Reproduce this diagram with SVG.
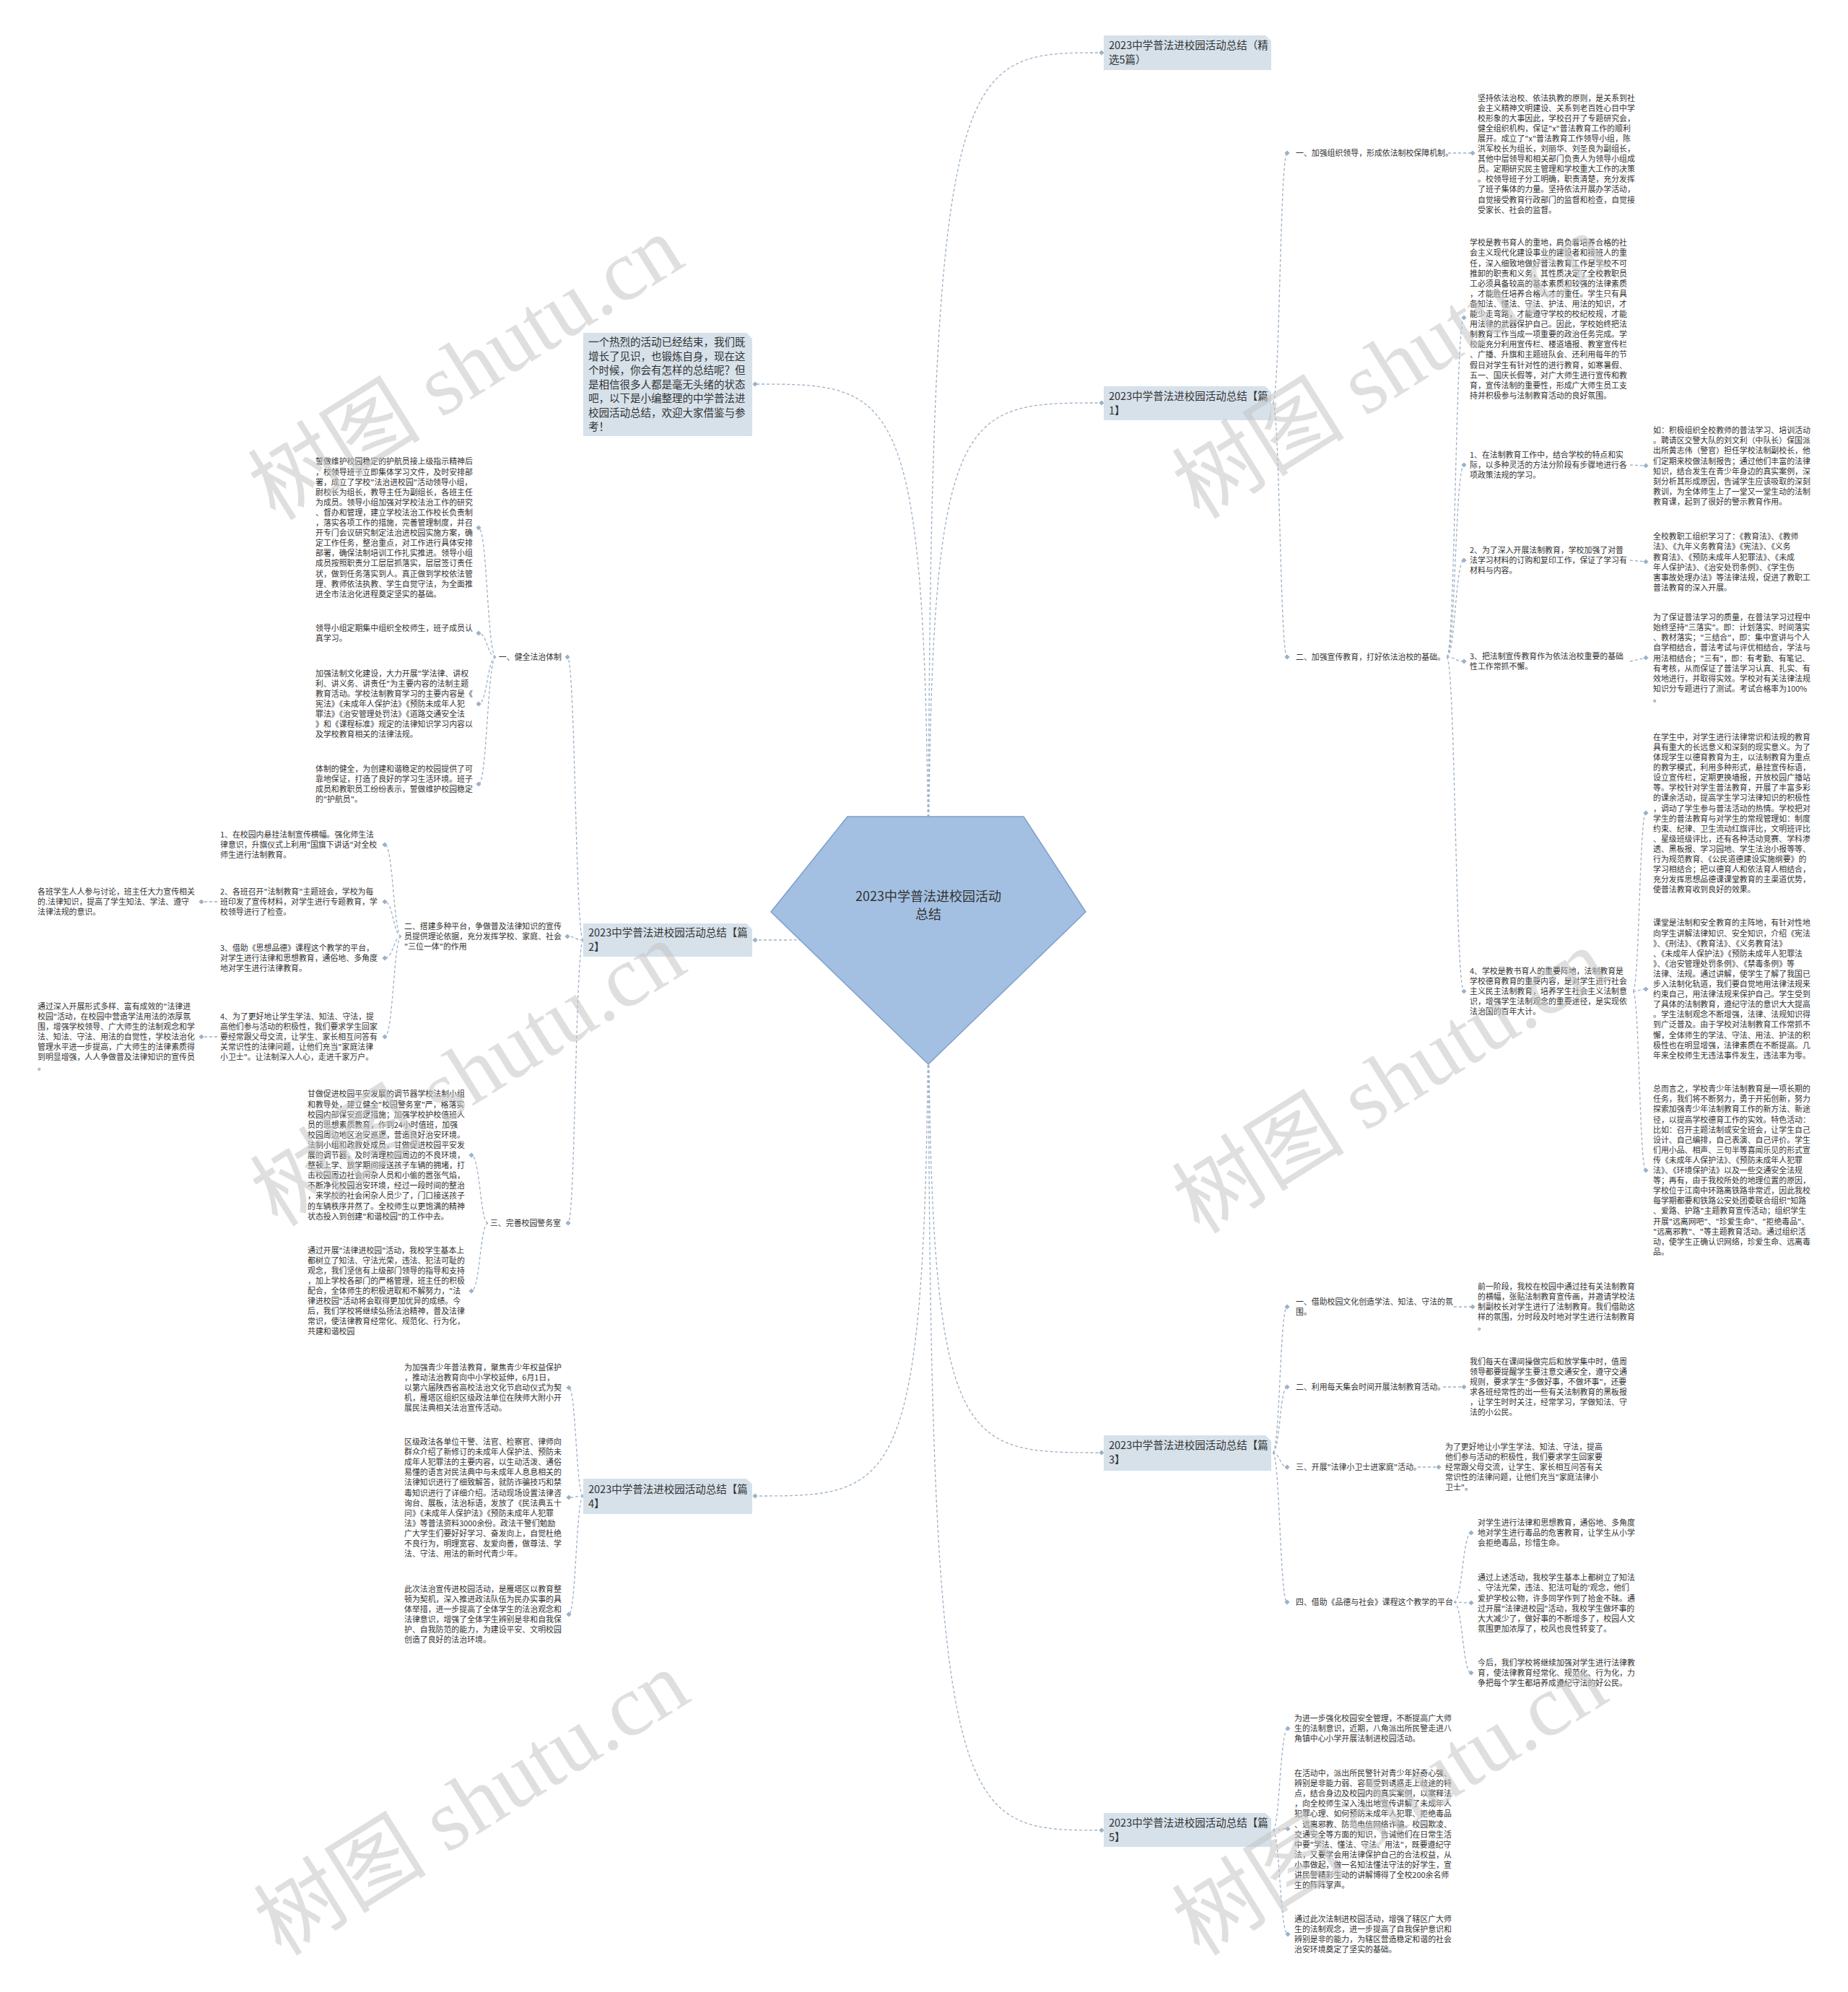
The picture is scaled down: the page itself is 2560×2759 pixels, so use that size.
<svg xmlns="http://www.w3.org/2000/svg" xmlns:xlink="http://www.w3.org/1999/xlink" width="2560" height="2759" viewBox="0 0 2560 2759">
<style>
.t{font-family:"Noto Sans CJK SC","Liberation Sans",sans-serif;font-size:10.9px;fill:#333}
.bt{font-family:"Noto Sans CJK SC","Liberation Sans",sans-serif;font-size:14.5px;fill:#333}
.ct{font-family:"Noto Sans CJK SC","Liberation Sans",sans-serif;font-size:18px;fill:#333}
.c{fill:none;stroke:#9cb1c6;stroke-width:1.3;stroke-dasharray:4 3}
.box{fill:#d6e1ea}
.wm{font-family:"Liberation Serif","Noto Sans CJK SC",serif;font-size:120px;fill:#c4c4c4;fill-opacity:0.55}
</style>
<defs>
<path id="dm" d="M0,-3.6 L3.6,0 L0,3.6 L-3.6,0 Z" fill="#9cb1c6"/>
</defs>
<rect width="2560" height="2759" fill="#ffffff"/>
<g id="connectors">
<path class="c" d="M1286,1300 C1286,73 1320,73 1526,73"/>
<path class="c" d="M1286,1300 C1286,558 1320,558 1526,558"/>
<path class="c" d="M1286,1300 C1286,2012 1320,2012 1526,2012"/>
<path class="c" d="M1286,1300 C1286,2535 1320,2535 1526,2535"/>
<path class="c" d="M1286,1300 C1286,532 1252,532 1046,532"/>
<path class="c" d="M1286,1300 C1200,1302 1100,1302 1046,1302"/>
<path class="c" d="M1286,1300 C1286,2072 1252,2072 1046,2072"/>
<path class="c" d="M1763,558 C1773,558 1773,212 1783,212"/>
<path class="c" d="M1763,558 C1773,558 1773,910 1783,910"/>
<path class="c" d="M2006,212 L2040,212"/>
<path class="c" d="M2004,910 C2016,910 2016,440 2028,440"/>
<path class="c" d="M2004,910 C2016,910 2016,644 2028,644"/>
<path class="c" d="M2004,910 C2016,910 2016,776 2028,776"/>
<path class="c" d="M2004,910 C2016,910 2016,916 2028,916"/>
<path class="c" d="M2004,910 C2016,910 2016,1373 2028,1373"/>
<path class="c" d="M2258,644 L2280,645"/>
<path class="c" d="M2258,776 L2280,778"/>
<path class="c" d="M2258,916 L2280,911"/>
<path class="c" d="M2262,1373 C2271,1373 2271,1126 2280,1126"/>
<path class="c" d="M2262,1373 C2271,1373 2271,1370 2280,1370"/>
<path class="c" d="M2262,1373 C2271,1373 2271,1621 2280,1621"/>
<path class="c" d="M1763,2012 C1773,2012 1773,1810 1783,1810"/>
<path class="c" d="M1763,2012 C1773,2012 1773,1921 1783,1921"/>
<path class="c" d="M1763,2012 C1773,2012 1773,2032 1783,2032"/>
<path class="c" d="M1763,2012 C1773,2012 1773,2219 1783,2219"/>
<path class="c" d="M2014,1810 L2040,1810"/>
<path class="c" d="M1999,1921 L2028,1921"/>
<path class="c" d="M1964,2032 L1993,2032"/>
<path class="c" d="M2014,2219 C2026,2219 2026,2123 2038,2123"/>
<path class="c" d="M2014,2219 C2026,2219 2026,2220 2038,2220"/>
<path class="c" d="M2014,2219 C2026,2219 2026,2317 2038,2317"/>
<path class="c" d="M1763,2535 C1773,2535 1773,2394 1784,2394"/>
<path class="c" d="M1763,2535 C1773,2535 1773,2533 1784,2533"/>
<path class="c" d="M1763,2535 C1773,2535 1773,2679 1784,2679"/>
<path class="c" d="M808,1302 C797,1302 797,910 786,910"/>
<path class="c" d="M808,1302 C797,1302 797,1297 786,1297"/>
<path class="c" d="M808,1302 C797,1302 797,1694 787,1694"/>
<path class="c" d="M687,910 C675,910 675,731 663,731"/>
<path class="c" d="M687,910 C675,910 675,877 663,877"/>
<path class="c" d="M687,910 C675,910 675,975 663,975"/>
<path class="c" d="M687,910 C675,910 675,1086 663,1086"/>
<path class="c" d="M556,1297 C545,1297 545,1170 533,1170"/>
<path class="c" d="M556,1297 C545,1297 545,1249 533,1249"/>
<path class="c" d="M556,1297 C545,1297 545,1327 533,1327"/>
<path class="c" d="M556,1297 C545,1297 545,1436 533,1436"/>
<path class="c" d="M301,1249 L279,1249"/>
<path class="c" d="M301,1436 L279,1436"/>
<path class="c" d="M676,1694 C665,1694 665,1600 653,1600"/>
<path class="c" d="M676,1694 C665,1694 665,1788 653,1788"/>
<path class="c" d="M808,2072 C798,2072 798,1922 788,1922"/>
<path class="c" d="M808,2072 C798,2072 798,2074 788,2074"/>
<path class="c" d="M808,2072 C798,2072 798,2236 788,2236"/>
<use xlink:href="#dm" x="1526" y="73"/><use xlink:href="#dm" x="1526" y="558"/><use xlink:href="#dm" x="1526" y="2012"/><use xlink:href="#dm" x="1526" y="2535"/>
<use xlink:href="#dm" x="1046" y="532"/><use xlink:href="#dm" x="1046" y="1302"/><use xlink:href="#dm" x="1046" y="2072"/>
<use xlink:href="#dm" x="1783" y="212"/><use xlink:href="#dm" x="1783" y="910"/><use xlink:href="#dm" x="2040" y="212"/>
<use xlink:href="#dm" x="2028" y="440"/><use xlink:href="#dm" x="2028" y="644"/><use xlink:href="#dm" x="2028" y="776"/><use xlink:href="#dm" x="2028" y="916"/><use xlink:href="#dm" x="2028" y="1373"/>
<use xlink:href="#dm" x="2280" y="645"/><use xlink:href="#dm" x="2280" y="778"/><use xlink:href="#dm" x="2280" y="911"/><use xlink:href="#dm" x="2280" y="1126"/><use xlink:href="#dm" x="2280" y="1370"/><use xlink:href="#dm" x="2280" y="1621"/>
<use xlink:href="#dm" x="1783" y="1810"/><use xlink:href="#dm" x="1783" y="1921"/><use xlink:href="#dm" x="1783" y="2032"/><use xlink:href="#dm" x="1783" y="2219"/>
<use xlink:href="#dm" x="2040" y="1810"/><use xlink:href="#dm" x="2028" y="1921"/><use xlink:href="#dm" x="1993" y="2032"/>
<use xlink:href="#dm" x="2038" y="2123"/><use xlink:href="#dm" x="2038" y="2220"/><use xlink:href="#dm" x="2038" y="2317"/>
<use xlink:href="#dm" x="1784" y="2394"/><use xlink:href="#dm" x="1784" y="2533"/><use xlink:href="#dm" x="1784" y="2679"/>
<use xlink:href="#dm" x="786" y="910"/><use xlink:href="#dm" x="786" y="1297"/><use xlink:href="#dm" x="787" y="1694"/>
<use xlink:href="#dm" x="663" y="731"/><use xlink:href="#dm" x="663" y="877"/><use xlink:href="#dm" x="663" y="975"/><use xlink:href="#dm" x="663" y="1086"/>
<use xlink:href="#dm" x="533" y="1170"/><use xlink:href="#dm" x="533" y="1249"/><use xlink:href="#dm" x="533" y="1327"/><use xlink:href="#dm" x="533" y="1436"/>
<use xlink:href="#dm" x="279" y="1249"/><use xlink:href="#dm" x="279" y="1436"/>
<use xlink:href="#dm" x="653" y="1600"/><use xlink:href="#dm" x="653" y="1788"/>
<use xlink:href="#dm" x="788" y="1922"/><use xlink:href="#dm" x="788" y="2074"/><use xlink:href="#dm" x="788" y="2236"/>
</g>
<g id="center">
<polygon points="1174,1131 1418,1131 1504,1263 1286,1474 1068,1263" fill="#a3c0e2" stroke="#7f9fca" stroke-width="1.5"/>
<text class="ct" x="1286" y="1248" text-anchor="middle">2023中学普法进校园活动</text>
<text class="ct" x="1286" y="1273" text-anchor="middle">总结</text>
</g>
<g id="n-title">
<path class="box" d="M1529,49 H1753 L1761,57 V97 H1529 Z"/>
<text class="bt" x="1536" y="68">2023中学普法进校园活动总结（精</text>
<text class="bt" x="1536" y="88">选5篇）</text>
</g>
<g id="n-p1">
<path class="box" d="M1529,535 H1753 L1761,543 V582 H1529 Z"/>
<text class="bt" x="1536" y="553.5">2023中学普法进校园活动总结【篇</text>
<text class="bt" x="1536" y="573.5">1】</text>
</g>
<g id="n-p3">
<path class="box" d="M1529,1988 H1753 L1761,1996 V2037 H1529 Z"/>
<text class="bt" x="1536" y="2007">2023中学普法进校园活动总结【篇</text>
<text class="bt" x="1536" y="2027">3】</text>
</g>
<g id="n-p5">
<path class="box" d="M1529,2511 H1753 L1761,2519 V2558 H1529 Z"/>
<text class="bt" x="1536" y="2529.5">2023中学普法进校园活动总结【篇</text>
<text class="bt" x="1536" y="2549.5">5】</text>
</g>
<g id="n-intro">
<path class="box" d="M808,461 H1034 L1042,469 V604 H808 Z"/>
<text class="bt"><tspan x="815" y="479.3">一个热烈的活动已经结束，我们既</tspan><tspan x="815" dy="19.5">增长了见识，也锻炼自身，现在这</tspan><tspan x="815" dy="19.5">个时候，你会有怎样的总结呢？但</tspan><tspan x="815" dy="19.5">是相信很多人都是毫无头绪的状态</tspan><tspan x="815" dy="19.5">吧，以下是小编整理的中学普法进</tspan><tspan x="815" dy="19.5">校园活动总结，欢迎大家借鉴与参</tspan><tspan x="815" dy="19.5">考！</tspan></text>
</g>
<g id="n-p2">
<path class="box" d="M808,1279 H1034 L1042,1287 V1325 H808 Z"/>
<text class="bt" x="815" y="1297">2023中学普法进校园活动总结【篇</text>
<text class="bt" x="815" y="1317">2】</text>
</g>
<g id="n-p4">
<path class="box" d="M808,2048 H1034 L1042,2056 V2097 H808 Z"/>
<text class="bt" x="815" y="2067.5">2023中学普法进校园活动总结【篇</text>
<text class="bt" x="815" y="2087.5">4】</text>
</g>
<g id="p1-1">
<text class="t" x="1795" y="216">一、加强组织领导，形成依法制校保障机制。</text>
</g>
<g id="p1-1a">
<text class="t"><tspan x="2047" y="139.5">坚持依法治校、依法执教的原则，是关系到社</tspan><tspan x="2047" dy="14.1">会主义精神文明建设、关系到老百姓心目中学</tspan><tspan x="2047" dy="14.1">校形象的大事因此，学校召开了专题研究会，</tspan><tspan x="2047" dy="14.1">健全组织机构，保证"x"普法教育工作的顺利</tspan><tspan x="2047" dy="14.1">展开。成立了"x"普法教育工作领导小组，陈</tspan><tspan x="2047" dy="14.1">洪军校长为组长，刘丽华、刘圣良为副组长，</tspan><tspan x="2047" dy="14.1">其他中层领导和相关部门负责人为领导小组成</tspan><tspan x="2047" dy="14.1">员。定期研究民主管理和学校重大工作的决策</tspan><tspan x="2047" dy="14.1">。校领导班子分工明确，职责清楚，充分发挥</tspan><tspan x="2047" dy="14.1">了班子集体的力量。坚持依法开展办学活动，</tspan><tspan x="2047" dy="14.1">自觉接受教育行政部门的监督和检查，自觉接</tspan><tspan x="2047" dy="14.1">受家长、社会的监督。</tspan></text>
</g>
<g id="p1-2">
<text class="t" x="1795" y="914">二、加强宣传教育，打好依法治校的基础。</text>
</g>
<g id="p1-2a">
<text class="t"><tspan x="2036" y="340.3">学校是教书育人的重地，肩负着培养合格的社</tspan><tspan x="2036" dy="14.1">会主义现代化建设事业的建设者和接班人的重</tspan><tspan x="2036" dy="14.1">任，深入细致地做好普法教育工作是学校不可</tspan><tspan x="2036" dy="14.1">推卸的职责和义务，其性质决定了全校教职员</tspan><tspan x="2036" dy="14.1">工必须具备较高的基本素质和较强的法律素质</tspan><tspan x="2036" dy="14.1">，才能胜任培养合格人才的重任。学生只有具</tspan><tspan x="2036" dy="14.1">备知法、懂法、守法、护法、用法的知识，才</tspan><tspan x="2036" dy="14.1">能少走弯路，才能遵守学校的校纪校规，才能</tspan><tspan x="2036" dy="14.1">用法律的武器保护自己。因此，学校始终把法</tspan><tspan x="2036" dy="14.1">制教育工作当成一项重要的政治任务完成。学</tspan><tspan x="2036" dy="14.1">校能充分利用宣传栏、楼道墙报、教室宣传栏</tspan><tspan x="2036" dy="14.1">、广播、升旗和主题班队会、还利用每年的节</tspan><tspan x="2036" dy="14.1">假日对学生有针对性的进行教育，如寒暑假、</tspan><tspan x="2036" dy="14.1">五一、国庆长假等，对广大师生进行宣传和教</tspan><tspan x="2036" dy="14.1">育，宣传法制的重要性，形成广大师生员工支</tspan><tspan x="2036" dy="14.1">持并积极参与法制教育活动的良好氛围。</tspan></text>
</g>
<g id="p1-2b">
<text class="t"><tspan x="2036" y="633.9">1、在法制教育工作中，结合学校的特点和实</tspan><tspan x="2036" dy="14.1">际，以多种灵活的方法分阶段有步骤地进行各</tspan><tspan x="2036" dy="14.1">项政策法规的学习。</tspan></text>
</g>
<g id="p1-2b1">
<text class="t"><tspan x="2290" y="600.2">如：积极组织全校教师的普法学习、培训活动</tspan><tspan x="2290" dy="14.1">。聘请区交警大队的刘文利（中队长）保国派</tspan><tspan x="2290" dy="14.1">出所黄志伟（警官）担任学校法制副校长，他</tspan><tspan x="2290" dy="14.1">们定期来校做法制报告；通过他们丰富的法律</tspan><tspan x="2290" dy="14.1">知识，结合发生在青少年身边的真实案例，深</tspan><tspan x="2290" dy="14.1">刻分析其形成原因，告诫学生应该吸取的深刻</tspan><tspan x="2290" dy="14.1">教训，为全体师生上了一堂又一堂生动的法制</tspan><tspan x="2290" dy="14.1">教育课，起到了很好的警示教育作用。</tspan></text>
</g>
<g id="p1-2c">
<text class="t"><tspan x="2036" y="765.9">2、为了深入开展法制教育，学校加强了对普</tspan><tspan x="2036" dy="14.1">法学习材料的订购和复印工作，保证了学习有</tspan><tspan x="2036" dy="14.1">材料与内容。</tspan></text>
</g>
<g id="p1-2c1">
<text class="t"><tspan x="2290" y="747.3">全校教职工组织学习了：《教育法》、《教师</tspan><tspan x="2290" dy="14.1">法》、《九年义务教育法》《宪法》、《义务</tspan><tspan x="2290" dy="14.1">教育法》、《预防未成年人犯罪法》、《未成</tspan><tspan x="2290" dy="14.1">年人保护法》、《治安处罚条例》、《学生伤</tspan><tspan x="2290" dy="14.1">害事故处理办法》等法律法规，促进了教职工</tspan><tspan x="2290" dy="14.1">普法教育的深入开展。</tspan></text>
</g>
<g id="p1-2d">
<text class="t"><tspan x="2036" y="913">3、把法制宣传教育作为依法治校重要的基础</tspan><tspan x="2036" dy="14.1">性工作常抓不懈。</tspan></text>
</g>
<g id="p1-2d1">
<text class="t"><tspan x="2290" y="859.1">为了保证普法学习的质量，在普法学习过程中</tspan><tspan x="2290" dy="14.1">始终坚持"三落实"。即：计划落实、时间落实</tspan><tspan x="2290" dy="14.1">、教材落实；"三结合"，即：集中宣讲与个人</tspan><tspan x="2290" dy="14.1">自学相结合，普法考试与评优相结合，学法与</tspan><tspan x="2290" dy="14.1">用法相结合；"三有"，即：有考勤、有笔记、</tspan><tspan x="2290" dy="14.1">有考核，从而保证了普法学习认真、扎实、有</tspan><tspan x="2290" dy="14.1">效地进行，并取得实效。学校对有关法律法规</tspan><tspan x="2290" dy="14.1">知识分专题进行了测试。考试合格率为100%</tspan><tspan x="2290" dy="14.1">。</tspan></text>
</g>
<g id="p1-2e">
<text class="t"><tspan x="2036" y="1348.8">4、学校是教书育人的重要阵地，法制教育是</tspan><tspan x="2036" dy="14.1">学校德育教育的重要内容，是对学生进行社会</tspan><tspan x="2036" dy="14.1">主义民主法制教育，培养学生社会主义法制意</tspan><tspan x="2036" dy="14.1">识，增强学生法制观念的重要途径，是实现依</tspan><tspan x="2036" dy="14.1">法治国的百年大计。</tspan></text>
</g>
<g id="p1-2e1">
<text class="t"><tspan x="2290" y="1024.8">在学生中，对学生进行法律常识和法规的教育</tspan><tspan x="2290" dy="14.1">具有重大的长远意义和深刻的现实意义。为了</tspan><tspan x="2290" dy="14.1">体现学生以德育教育为主，以法制教育为重点</tspan><tspan x="2290" dy="14.1">的教学模式，利用多种形式，悬挂宣传标语，</tspan><tspan x="2290" dy="14.1">设立宣传栏，定期更换墙报，开放校园广播站</tspan><tspan x="2290" dy="14.1">等。学校针对学生普法教育，开展了丰富多彩</tspan><tspan x="2290" dy="14.1">的课余活动，提高学生学习法律知识的积极性</tspan><tspan x="2290" dy="14.1">，调动了学生参与普法活动的热情。学校把对</tspan><tspan x="2290" dy="14.1">学生的普法教育与对学生的常规管理如：制度</tspan><tspan x="2290" dy="14.1">约束、纪律、卫生流动红旗评比，文明班评比</tspan><tspan x="2290" dy="14.1">、星级班级评比，还有各种活动竞赛、学科渗</tspan><tspan x="2290" dy="14.1">透、黑板报、学习园地、学生法治小报等等、</tspan><tspan x="2290" dy="14.1">行为规范教育、《公民道德建设实施纲要》的</tspan><tspan x="2290" dy="14.1">学习相结合；把以德育人和依法育人相结合，</tspan><tspan x="2290" dy="14.1">充分发挥思想品德课课堂教育的主渠道优势，</tspan><tspan x="2290" dy="14.1">使普法教育收到良好的效果。</tspan></text>
</g>
<g id="p1-2e2">
<text class="t"><tspan x="2290" y="1282.4">课堂是法制和安全教育的主阵地，有针对性地</tspan><tspan x="2290" dy="14.1">向学生讲解法律知识、安全知识，介绍《宪法</tspan><tspan x="2290" dy="14.1">》、《刑法》、《教育法》、《义务教育法》</tspan><tspan x="2290" dy="14.1">、《未成年人保护法》《预防未成年人犯罪法</tspan><tspan x="2290" dy="14.1">》、《治安管理处罚条例》、《禁毒条例》等</tspan><tspan x="2290" dy="14.1">法律、法规。通过讲解，使学生了解了我国已</tspan><tspan x="2290" dy="14.1">步入法制化轨道，我们要自觉地用法律法规来</tspan><tspan x="2290" dy="14.1">约束自己，用法律法规来保护自己。学生受到</tspan><tspan x="2290" dy="14.1">了具体的法制教育，遵纪守法的意识大大提高</tspan><tspan x="2290" dy="14.1">。学生法制观念不断增强，法律、法规知识得</tspan><tspan x="2290" dy="14.1">到广泛普及。由于学校对法制教育工作常抓不</tspan><tspan x="2290" dy="14.1">懈，全体师生的学法、守法、用法、护法的积</tspan><tspan x="2290" dy="14.1">极性也在明显增强，法律素质在不断提高。几</tspan><tspan x="2290" dy="14.1">年来全校师生无违法事件发生，违法率为零。</tspan></text>
</g>
<g id="p1-2e3">
<text class="t"><tspan x="2290" y="1512.2">总而言之，学校青少年法制教育是一项长期的</tspan><tspan x="2290" dy="14.1">任务，我们将不断努力，勇于开拓创新，努力</tspan><tspan x="2290" dy="14.1">探索加强青少年法制教育工作的新方法、新途</tspan><tspan x="2290" dy="14.1">径，以提高学校德育工作的实效。特色活动：</tspan><tspan x="2290" dy="14.1">比如：召开主题法制或安全班会，让学生自己</tspan><tspan x="2290" dy="14.1">设计、自己编排，自己表演、自己评价。学生</tspan><tspan x="2290" dy="14.1">们用小品、相声、三句半等喜闻乐见的形式宣</tspan><tspan x="2290" dy="14.1">传《未成年人保护法》、《预防未成年人犯罪</tspan><tspan x="2290" dy="14.1">法》、《环境保护法》以及一些交通安全法规</tspan><tspan x="2290" dy="14.1">等；再有，由于我校所处的地理位置的原因，</tspan><tspan x="2290" dy="14.1">学校位于江南中环路离铁路非常近，因此我校</tspan><tspan x="2290" dy="14.1">每学期都要和铁路公安处团委联合组织"知路</tspan><tspan x="2290" dy="14.1">、爱路、护路"主题教育宣传活动；组织学生</tspan><tspan x="2290" dy="14.1">开展"远离网吧"、"珍爱生命"、"拒绝毒品"、</tspan><tspan x="2290" dy="14.1">"远离邪教"、"等主题教育活动。通过组织活</tspan><tspan x="2290" dy="14.1">动，使学生正确认识网络，珍爱生命、远离毒</tspan><tspan x="2290" dy="14.1">品。</tspan></text>
</g>
<g id="p3-1">
<text class="t"><tspan x="1795" y="1807">一、借助校园文化创造学法、知法、守法的氛</tspan><tspan x="1795" dy="14.1">围。</tspan></text>
</g>
<g id="p3-1a">
<text class="t"><tspan x="2047" y="1785.8">前一阶段，我校在校园中通过挂有关法制教育</tspan><tspan x="2047" dy="14.1">的横幅，张贴法制教育宣传画，并邀请学校法</tspan><tspan x="2047" dy="14.1">制副校长对学生进行了法制教育。我们借助这</tspan><tspan x="2047" dy="14.1">样的氛围，分时段及时地对学生进行法制教育</tspan><tspan x="2047" dy="14.1">。</tspan></text>
</g>
<g id="p3-2">
<text class="t" x="1795" y="1925">二、利用每天集会时间开展法制教育活动。</text>
</g>
<g id="p3-2a">
<text class="t"><tspan x="2036" y="1889.8">我们每天在课间操做完后和放学集中时，值周</tspan><tspan x="2036" dy="14.1">领导都要提醒学生要注意交通安全，遵守交通</tspan><tspan x="2036" dy="14.1">规则，要求学生"多做好事，不做坏事"，还要</tspan><tspan x="2036" dy="14.1">求各班经常性的出一些有关法制教育的黑板报</tspan><tspan x="2036" dy="14.1">，让学生时时关注，经常学习，学做知法、守</tspan><tspan x="2036" dy="14.1">法的小公民。</tspan></text>
</g>
<g id="p3-3">
<text class="t" x="1795" y="2036">三、开展"法律小卫士进家庭"活动。</text>
</g>
<g id="p3-3a">
<text class="t"><tspan x="2002" y="2007.8">为了更好地让小学生学法、知法、守法，提高</tspan><tspan x="2002" dy="14.1">他们参与活动的积极性，我们要求学生回家要</tspan><tspan x="2002" dy="14.1">经常跟父母交流，让学生、家长相互问答有关</tspan><tspan x="2002" dy="14.1">常识性的法律问题，让他们充当"家庭法律小</tspan><tspan x="2002" dy="14.1">卫士"。</tspan></text>
</g>
<g id="p3-4">
<text class="t" x="1795" y="2223">四、借助《品德与社会》课程这个教学的平台</text>
</g>
<g id="p3-4a">
<text class="t"><tspan x="2047" y="2112.9">对学生进行法律和思想教育，通俗地、多角度</tspan><tspan x="2047" dy="14.1">地对学生进行毒品的危害教育，让学生从小学</tspan><tspan x="2047" dy="14.1">会拒绝毒品，珍惜生命。</tspan></text>
</g>
<g id="p3-4b">
<text class="t"><tspan x="2047" y="2189.3">通过上述活动，我校学生基本上都树立了知法</tspan><tspan x="2047" dy="14.1">、守法光荣，违法、犯法可耻的'观念，他们</tspan><tspan x="2047" dy="14.1">爱护学校公物，许多同学作到了拾金不昧。通</tspan><tspan x="2047" dy="14.1">过开展"法律进校园"活动，我校学生做坏事的</tspan><tspan x="2047" dy="14.1">大大减少了，做好事的不断增多了，校园人文</tspan><tspan x="2047" dy="14.1">氛围更加浓厚了，校风也良性转变了。</tspan></text>
</g>
<g id="p3-4c">
<text class="t"><tspan x="2047" y="2306.9">今后，我们学校将继续加强对学生进行法律教</tspan><tspan x="2047" dy="14.1">育，使法律教育经常化、规范化、行为化，力</tspan><tspan x="2047" dy="14.1">争把每个学生都培养成遵纪守法的好公民。</tspan></text>
</g>
<g id="p5-1">
<text class="t"><tspan x="1793" y="2383.9">为进一步强化校园安全管理，不断提高广大师</tspan><tspan x="1793" dy="14.1">生的法制意识，近期，八角派出所民警走进八</tspan><tspan x="1793" dy="14.1">角镇中心小学开展法制进校园活动。</tspan></text>
</g>
<g id="p5-2">
<text class="t"><tspan x="1793" y="2460">在活动中，派出所民警针对青少年好奇心强、</tspan><tspan x="1793" dy="14.1">辨别是非能力弱、容易受到诱惑走上歧途的特</tspan><tspan x="1793" dy="14.1">点，结合身边及校园内的真实案例，以案释法</tspan><tspan x="1793" dy="14.1">，向全校师生深入浅出地宣传讲解了未成年人</tspan><tspan x="1793" dy="14.1">犯罪心理、如何预防未成年人犯罪、拒绝毒品</tspan><tspan x="1793" dy="14.1">、远离邪教、防范电信网络诈骗、校园欺凌、</tspan><tspan x="1793" dy="14.1">交通安全等方面的知识，告诫他们在日常生活</tspan><tspan x="1793" dy="14.1">中要"学法、懂法、守法、用法"，既要遵纪守</tspan><tspan x="1793" dy="14.1">法，又要学会用法律保护自己的合法权益，从</tspan><tspan x="1793" dy="14.1">小事做起，做一名知法懂法守法的好学生，宣</tspan><tspan x="1793" dy="14.1">讲民警精彩生动的讲解博得了全校200余名师</tspan><tspan x="1793" dy="14.1">生的阵阵掌声。</tspan></text>
</g>
<g id="p5-3">
<text class="t"><tspan x="1793" y="2661.9">通过此次法制进校园活动，增强了辖区广大师</tspan><tspan x="1793" dy="14.1">生的法制观念，进一步提高了自我保护意识和</tspan><tspan x="1793" dy="14.1">辨别是非的能力，为辖区营造稳定和谐的社会</tspan><tspan x="1793" dy="14.1">治安环境奠定了坚实的基础。</tspan></text>
</g>
<g id="p2-1">
<text class="t" x="778" y="914" text-anchor="end">一、健全法治体制</text>
</g>
<g id="p2-1a">
<text class="t"><tspan x="437" y="643.4">誓做维护校园稳定的护航员接上级指示精神后</tspan><tspan x="437" dy="14.1">，校领导班子立即集体学习文件，及时安排部</tspan><tspan x="437" dy="14.1">署，成立了学校"法治进校园"活动领导小组，</tspan><tspan x="437" dy="14.1">尉校长为组长，教导主任为副组长，各班主任</tspan><tspan x="437" dy="14.1">为成员。领导小组加强对学校法治工作的研究</tspan><tspan x="437" dy="14.1">、督办和管理，建立学校法治工作校长负责制</tspan><tspan x="437" dy="14.1">，落实各项工作的措施，完善管理制度，并召</tspan><tspan x="437" dy="14.1">开专门会议研究制定法治进校园实施方案，确</tspan><tspan x="437" dy="14.1">定工作任务，整治重点，对工作进行具体安排</tspan><tspan x="437" dy="14.1">部署，确保法制培训工作扎实推进。领导小组</tspan><tspan x="437" dy="14.1">成员按照职责分工层层抓落实，层层签订责任</tspan><tspan x="437" dy="14.1">状，做到任务落实到人。真正做到学校依法管</tspan><tspan x="437" dy="14.1">理、教师依法执教、学生自觉守法，为全面推</tspan><tspan x="437" dy="14.1">进全市法治化进程奠定坚实的基础。</tspan></text>
</g>
<g id="p2-1b">
<text class="t"><tspan x="437" y="874">领导小组定期集中组织全校师生，班子成员认</tspan><tspan x="437" dy="14.1">真学习。</tspan></text>
</g>
<g id="p2-1c">
<text class="t"><tspan x="437" y="936.7">加强法制文化建设，大力开展"学法律、讲权</tspan><tspan x="437" dy="14.1">利、讲义务、讲责任"为主要内容的法制主题</tspan><tspan x="437" dy="14.1">教育活动。学校法制教育学习的主要内容是《</tspan><tspan x="437" dy="14.1">宪法》《未成年人保护法》《预防未成年人犯</tspan><tspan x="437" dy="14.1">罪法》《治安管理处罚法》《道路交通安全法</tspan><tspan x="437" dy="14.1">》和《课程标准》规定的法律知识学习内容以</tspan><tspan x="437" dy="14.1">及学校教育相关的法律法规。</tspan></text>
</g>
<g id="p2-1d">
<text class="t"><tspan x="437" y="1068.9">体制的健全，为创建和谐稳定的校园提供了可</tspan><tspan x="437" dy="14.1">靠地保证，打造了良好的学习生活环境。班子</tspan><tspan x="437" dy="14.1">成员和教职员工纷纷表示，誓做维护校园稳定</tspan><tspan x="437" dy="14.1">的"护航员"。</tspan></text>
</g>
<g id="p2-2">
<text class="t"><tspan x="560" y="1286.9">二、搭建多种平台，争做普及法律知识的宣传</tspan><tspan x="560" dy="14.1">员提供理论依据，充分发挥学校、家庭、社会</tspan><tspan x="560" dy="14.1">"三位一体"的作用</tspan></text>
</g>
<g id="p2-2a">
<text class="t"><tspan x="305" y="1159.9">1、在校园内悬挂法制宣传横幅。强化师生法</tspan><tspan x="305" dy="14.1">律意识，升旗仪式上利用"国旗下讲话"对全校</tspan><tspan x="305" dy="14.1">师生进行法制教育。</tspan></text>
</g>
<g id="p2-2b">
<text class="t"><tspan x="305" y="1238.9">2、各班召开"法制教育"主题班会，学校为每</tspan><tspan x="305" dy="14.1">班印发了宣传材料，对学生进行专题教育，学</tspan><tspan x="305" dy="14.1">校领导进行了检查。</tspan></text>
</g>
<g id="p2-2b1">
<text class="t"><tspan x="52" y="1238.9">各班学生人人参与讨论，班主任大力宣传相关</tspan><tspan x="52" dy="14.1">的.法律知识，提高了学生知法、学法、遵守</tspan><tspan x="52" dy="14.1">法律法规的意识。</tspan></text>
</g>
<g id="p2-2c">
<text class="t"><tspan x="305" y="1316.9">3、借助《思想品德》课程这个教学的平台，</tspan><tspan x="305" dy="14.1">对学生进行法律和思想教育，通俗地、多角度</tspan><tspan x="305" dy="14.1">地对学生进行法律教育。</tspan></text>
</g>
<g id="p2-2d">
<text class="t"><tspan x="305" y="1411.8">4、为了更好地让学生学法、知法、守法，提</tspan><tspan x="305" dy="14.1">高他们参与活动的积极性，我们要求学生回家</tspan><tspan x="305" dy="14.1">要经常跟父母交流，让学生、家长相互问答有</tspan><tspan x="305" dy="14.1">关常识性的法律问题，让他们充当"家庭法律</tspan><tspan x="305" dy="14.1">小卫士"。让法制深入人心，走进千家万户。</tspan></text>
</g>
<g id="p2-2d1">
<text class="t"><tspan x="52" y="1397.7">通过深入开展形式多样、富有成效的"法律进</tspan><tspan x="52" dy="14.1">校园"活动，在校园中营造学法用法的浓厚氛</tspan><tspan x="52" dy="14.1">围，增强学校领导、广大师生的法制观念和学</tspan><tspan x="52" dy="14.1">法、知法、守法、用法的自觉性，学校法治化</tspan><tspan x="52" dy="14.1">管理水平进一步提高，广大师生的法律素质得</tspan><tspan x="52" dy="14.1">到明显增强，人人争做普及法律知识的宣传员</tspan><tspan x="52" dy="14.1">。</tspan></text>
</g>
<g id="p2-3">
<text class="t" x="777" y="1698" text-anchor="end">三、完善校园警务室</text>
</g>
<g id="p2-3a">
<text class="t"><tspan x="426" y="1519.4">甘做促进校园平安发展的调节器学校法制小组</tspan><tspan x="426" dy="14.1">和教导处，建立健全"校园警务室"严，格落实</tspan><tspan x="426" dy="14.1">校园内部保安巡逻措施；加强学校护校值班人</tspan><tspan x="426" dy="14.1">员的思想素质教育，作到24小时值班，加强</tspan><tspan x="426" dy="14.1">校园周边地区治安巡逻，营造良好治安环境。</tspan><tspan x="426" dy="14.1">法制小组和政教处成员，甘做促进校园平安发</tspan><tspan x="426" dy="14.1">展的调节器，及时清理校园周边的不良环境，</tspan><tspan x="426" dy="14.1">整顿上学、放学期间接送孩子车辆的拥堵，打</tspan><tspan x="426" dy="14.1">击校园周边社会闲杂人员和小偷的嚣张气焰，</tspan><tspan x="426" dy="14.1">不断净化校园治安环境，经过一段时间的整治</tspan><tspan x="426" dy="14.1">，来学校的社会闲杂人员少了，门口接送孩子</tspan><tspan x="426" dy="14.1">的车辆秩序井然了。全校师生以更饱满的精神</tspan><tspan x="426" dy="14.1">状态投入到创建"和谐校园"的工作中去。</tspan></text>
</g>
<g id="p2-3b">
<text class="t"><tspan x="426" y="1735.6">通过开展"法律进校园"活动，我校学生基本上</tspan><tspan x="426" dy="14.1">都树立了知法、守法光荣，违法、犯法可耻的</tspan><tspan x="426" dy="14.1">观念，我们坚信有上级部门领导的指导和支持</tspan><tspan x="426" dy="14.1">，加上学校各部门的严格管理，班主任的积极</tspan><tspan x="426" dy="14.1">配合，全体师生的积极进取和不解努力，"法</tspan><tspan x="426" dy="14.1">律进校园"活动将会取得更加优异的成绩。今</tspan><tspan x="426" dy="14.1">后，我们学校将继续弘扬法治精神，普及法律</tspan><tspan x="426" dy="14.1">常识，使法律教育经常化、规范化、行为化，</tspan><tspan x="426" dy="14.1">共建和谐校园</tspan></text>
</g>
<g id="p4-1">
<text class="t"><tspan x="560" y="1897.8">为加强青少年普法教育，聚焦青少年权益保护</tspan><tspan x="560" dy="14.1">，推动法治教育向中小学校延伸，6月1日，</tspan><tspan x="560" dy="14.1">以第六届陕西省高校法治文化节启动仪式为契</tspan><tspan x="560" dy="14.1">机，雁塔区组织区级政法单位在陕师大附小开</tspan><tspan x="560" dy="14.1">展民法典相关法治宣传活动。</tspan></text>
</g>
<g id="p4-2">
<text class="t"><tspan x="560" y="2001">区级政法各单位干警、法官、检察官、律师向</tspan><tspan x="560" dy="14.1">群众介绍了新修订的未成年人保护法、预防未</tspan><tspan x="560" dy="14.1">成年人犯罪法的主要内容，以生动活泼、通俗</tspan><tspan x="560" dy="14.1">易懂的语言对民法典中与未成年人息息相关的</tspan><tspan x="560" dy="14.1">法律知识进行了细致解答，就防诈骗技巧和禁</tspan><tspan x="560" dy="14.1">毒知识进行了详细介绍。活动现场设置法律咨</tspan><tspan x="560" dy="14.1">询台、展板，法治标语，发放了《民法典五十</tspan><tspan x="560" dy="14.1">问》《未成年人保护法》《预防未成年人犯罪</tspan><tspan x="560" dy="14.1">法》等普法资料3000余份。政法干警们勉励</tspan><tspan x="560" dy="14.1">广大学生们要好好学习、奋发向上，自觉杜绝</tspan><tspan x="560" dy="14.1">不良行为，明理宽容、友爱向善，做尊法、学</tspan><tspan x="560" dy="14.1">法、守法、用法的新时代青少年。</tspan></text>
</g>
<g id="p4-3">
<text class="t"><tspan x="560" y="2204.8">此次法治宣传进校园活动，是雁塔区以教育整</tspan><tspan x="560" dy="14.1">顿为契机，深入推进政法队伍为民办实事的具</tspan><tspan x="560" dy="14.1">体举措，进一步提高了全体学生的法治观念和</tspan><tspan x="560" dy="14.1">法律意识，增强了全体学生辨别是非和自我保</tspan><tspan x="560" dy="14.1">护、自我防范的能力，为建设平安、文明校园</tspan><tspan x="560" dy="14.1">创造了良好的法治环境。</tspan></text>
</g>
<g id="watermarks">
<text class="wm" x="647" y="550" text-anchor="middle" transform="rotate(-32 647 512)">树图 shutu.cn</text>
<text class="wm" x="1927" y="548" text-anchor="middle" transform="rotate(-32 1927 510)">树图 shutu.cn</text>
<text class="wm" x="650" y="1528" text-anchor="middle" transform="rotate(-32 650 1490)">树图 shutu.cn</text>
<text class="wm" x="1927" y="1538" text-anchor="middle" transform="rotate(-32 1927 1500)">树图 shutu.cn</text>
<text class="wm" x="655" y="2538" text-anchor="middle" transform="rotate(-32 655 2500)">树图 shutu.cn</text>
<text class="wm" x="1927" y="2538" text-anchor="middle" transform="rotate(-32 1927 2500)">树图 shutu.cn</text>
</g>
</svg>
